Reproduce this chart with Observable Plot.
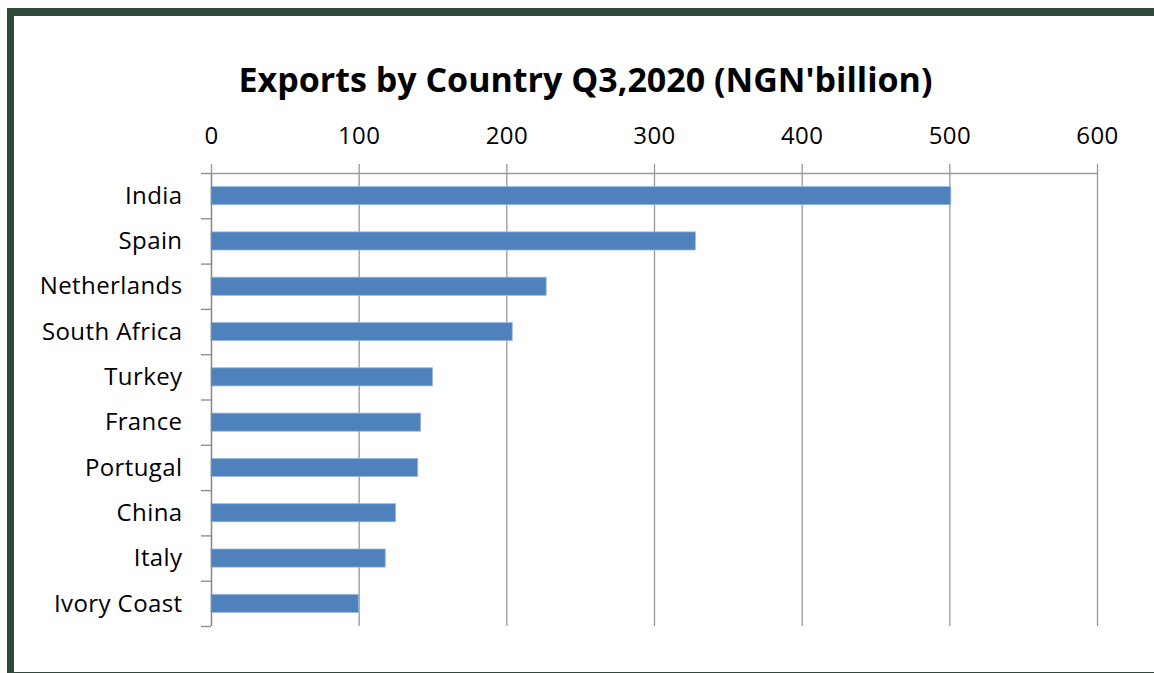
<!DOCTYPE html>
<html>
<head>
<meta charset="utf-8">
<script src="https://cdn.jsdelivr.net/npm/d3@7"></script>
<script src="https://cdn.jsdelivr.net/npm/@observablehq/plot@0.6"></script>
<style>
  html, body { margin: 0; padding: 0; background: #fff; width: 1154px; height: 673px; overflow: hidden; }
  #frame { position: absolute; left: 7px; top: 8px; right: 0; height: 665px; box-sizing: border-box;
           border-top: 8px solid #2E4A3B; border-left: 7px solid #2E4A3B; border-bottom: 1px solid #2E4A3B; background: #fff; }
  #title { position: absolute; left: 0; width: 1171px; top: 59px; text-align: center;
           font-family: "Open Sans", sans-serif; font-weight: bold; font-size: 34px; color: #000; line-height: 1.2; }
  #chart { position: absolute; left: 14px; top: 110px; }
  #chart text { letter-spacing: 0.4px; }
</style>
</head>
<body>
<div id="frame"></div>
<div id="title">Exports by Country Q3,2020 (NGN'billion)</div>
<div id="chart"></div>
<script>
const countries = ["India", "Spain", "Netherlands", "South Africa", "Turkey", "France", "Portugal", "China", "Italy", "Ivory Coast"];
const values = [501, 328, 227, 204, 150, 142, 140, 125, 118, 100];
const xTicks = [0, 100, 200, 300, 400, 500, 600];

const data = countries.map((c, i) => ({country: c, value: values[i], index: i}));
const boundaries = d3.range(0, countries.length + 1);

const plot = Plot.plot({
  width: 1140,
  height: 540,
  marginLeft: 197,
  marginRight: 57,
  marginTop: 63,
  marginBottom: 24,
  style: {fontFamily: "'Open Sans', sans-serif", fontSize: "24px", color: "#000", background: "transparent"},
  x: {domain: [0, 600], label: null},
  y: {domain: [0, countries.length], reverse: true, label: null},
  marks: [
    Plot.ruleX(xTicks, {stroke: "#999", strokeWidth: 1.3}),
    Plot.axisX(xTicks, {anchor: "top", label: null, tickSize: 10, tickPadding: 20, stroke: "#999", strokeWidth: 1.3, fill: "#000", fontSize: 24}),
    Plot.axisY(boundaries, {anchor: "left", label: null, tickSize: 10, tickFormat: () => "", stroke: "#888", strokeWidth: 1.3}),
    Plot.axisY(data.map(d => d.index + 0.5), {anchor: "left", label: null, tickSize: 0, tickPadding: 29,
      tickFormat: (v) => countries[Math.floor(v)], fill: "#000", fontSize: 24}),
    Plot.rectX(data, {x1: 0, x2: "value", y1: d => d.index + 0.3, y2: d => d.index + 0.7,
      fill: "#4F81BD", stroke: "#9BB8DD", strokeWidth: 0.8}),
    Plot.ruleX([0], {stroke: "#888", strokeWidth: 1.3}),
    Plot.ruleY([0], {stroke: "#999", strokeWidth: 1.3})
  ]
});
document.getElementById("chart").appendChild(plot);
</script>
</body>
</html>
